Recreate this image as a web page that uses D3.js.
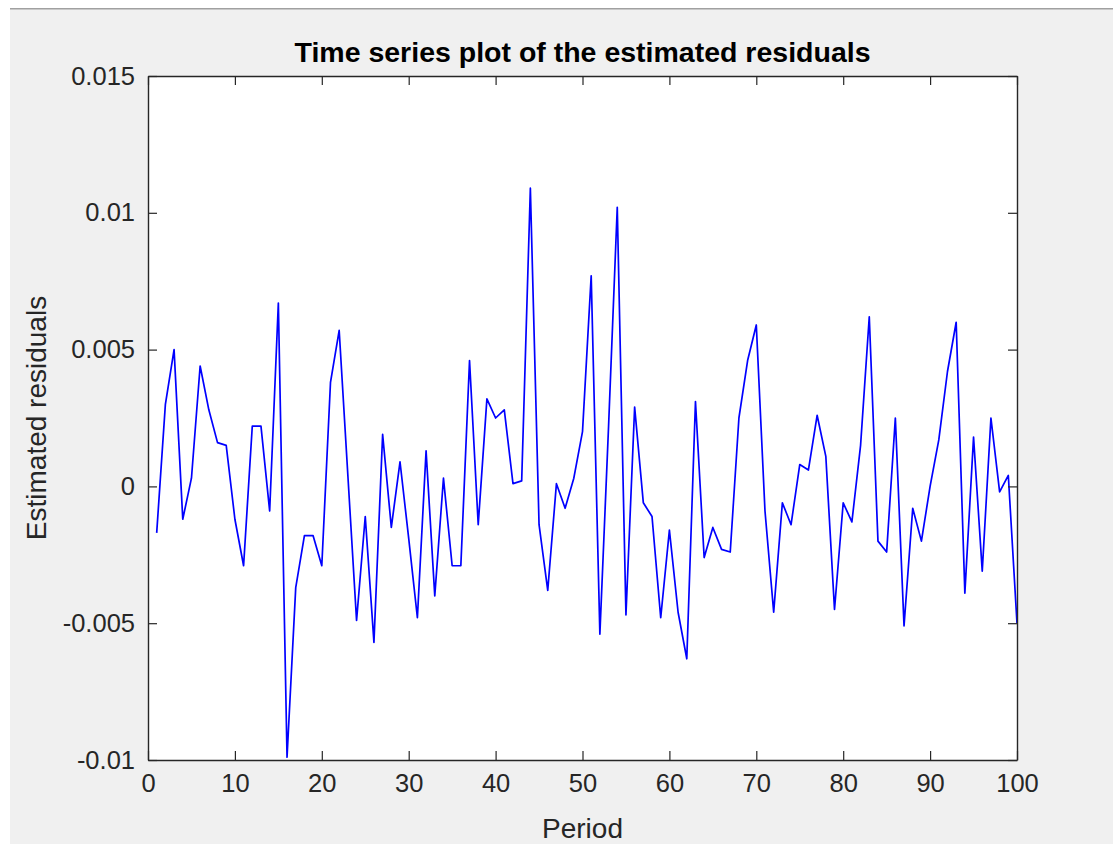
<html>

<head>
    <style>
        body { margin: 0; background: #ffffff; }
        svg { display: block; }
        text { font-family: "Liberation Sans", Arial, Helvetica, sans-serif; fill: #262626; }
    </style>
</head>

<body>
    <div id="my_dataviz"></div>
</body>

<script src="https://d3js.org/d3.v7.min.js"></script>
<script>
    // period 1..100 and the residuals
    var periods = d3.range(1, 101)
    var residuals = [
        -0.0017, 0.0030, 0.0050, -0.0012, 0.0003, 0.0044, 0.0028, 0.0016, 0.0015, -0.0012,
        -0.0029, 0.0022, 0.0022, -0.0009, 0.0067, -0.0099, -0.0037, -0.0018, -0.0018, -0.0029,
        0.0038, 0.0057, 0.0004, -0.0049, -0.0011, -0.0057, 0.0019, -0.0015, 0.0009, -0.0019,
        -0.0048, 0.0013, -0.0040, 0.0003, -0.0029, -0.0029, 0.0046, -0.0014, 0.0032, 0.0025,
        0.0028, 0.0001, 0.0002, 0.0109, -0.0014, -0.0038, 0.0001, -0.0008, 0.0003, 0.0020,
        0.0077, -0.0054, 0.0022, 0.0102, -0.0047, 0.0029, -0.0006, -0.0011, -0.0048, -0.0016,
        -0.0046, -0.0063, 0.0031, -0.0026, -0.0015, -0.0023, -0.0024, 0.0025, 0.0046, 0.0059,
        -0.0009, -0.0046, -0.0006, -0.0014, 0.0008, 0.0006, 0.0026, 0.0011, -0.0045, -0.0006,
        -0.0013, 0.0015, 0.0062, -0.0020, -0.0024, 0.0025, -0.0051, -0.0008, -0.0020, 0.0000,
        0.0017, 0.0042, 0.0060, -0.0039, 0.0018, -0.0031, 0.0025, -0.0002, 0.0004, -0.0050
    ]
    var xTicks = [0, 10, 20, 30, 40, 50, 60, 70, 80, 90, 100]
    var yTicks = [-0.01, -0.005, 0, 0.005, 0.01, 0.015]
    var yTickLabels = ["-0.01", "-0.005", "0", "0.005", "0.01", "0.015"]

    var W = 1119, H = 844
    var plot = { left: 148, right: 1017, top: 76, bottom: 760 }

    var svg = d3.select("#my_dataviz")
        .append("svg")
        .attr("width", W)
        .attr("height", H)

    // figure window background
    svg.append("rect")
        .attr("x", 10).attr("y", 9)
        .attr("width", 1103).attr("height", H - 9)
        .attr("fill", "#f0f0f0")
    svg.append("rect")
        .attr("x", 10).attr("y", 8)
        .attr("width", 1103).attr("height", 1.5)
        .attr("fill", "#a0a0a0")

    var x = d3.scaleLinear().domain([0, 100]).range([plot.left, plot.right])
    var y = d3.scaleLinear().domain([-0.01, 0.015]).range([plot.bottom, plot.top])

    // axes box
    svg.append("rect")
        .attr("x", plot.left).attr("y", plot.top)
        .attr("width", plot.right - plot.left)
        .attr("height", plot.bottom - plot.top)
        .attr("fill", "#ffffff")

    // the series
    var line = d3.line()
        .x(function (d, i) { return x(periods[i]) })
        .y(function (d) { return y(d) })

    svg.append("path")
        .datum(residuals)
        .attr("d", line)
        .attr("fill", "none")
        .attr("stroke", "#0000ff")
        .attr("stroke-width", 1.7)
        .attr("stroke-linejoin", "round")

    // axes, MATLAB style: ticks inside on all four sides
    var tickLen = 9
    svg.append("g")
        .attr("transform", "translate(0," + plot.bottom + ")")
        .call(d3.axisBottom(x).tickValues(xTicks).tickSizeInner(-tickLen).tickSizeOuter(0).tickPadding(14))
    svg.append("g")
        .attr("transform", "translate(0," + plot.top + ")")
        .call(d3.axisTop(x).tickValues(xTicks).tickSizeInner(-tickLen).tickSizeOuter(0).tickFormat(""))
    svg.append("g")
        .attr("transform", "translate(" + plot.left + ",0)")
        .call(d3.axisLeft(y).tickValues(yTicks).tickSizeInner(-tickLen).tickSizeOuter(0).tickPadding(13)
            .tickFormat(function (d, i) { return yTickLabels[i] }))
    svg.append("g")
        .attr("transform", "translate(" + plot.right + ",0)")
        .call(d3.axisRight(y).tickValues(yTicks).tickSizeInner(-tickLen).tickSizeOuter(0).tickFormat(""))

    svg.selectAll(".domain").attr("stroke", "#262626").attr("stroke-width", 1.4)
    svg.selectAll(".tick line").attr("stroke", "#262626").attr("stroke-width", 1.2)
    svg.selectAll(".tick text")
        .style("font-family", "'Liberation Sans', Arial, sans-serif")
        .style("font-size", "25.5px")
        .attr("fill", "#333333")

    // titles
    svg.append("text")
        .attr("x", (plot.left + plot.right) / 2)
        .attr("y", 62)
        .attr("text-anchor", "middle")
        .style("font-size", "28.5px")
        .style("font-weight", "bold")
        .style("fill", "#000000")
        .text("Time series plot of the estimated residuals")

    svg.append("text")
        .attr("x", (plot.left + plot.right) / 2)
        .attr("y", 838)
        .attr("text-anchor", "middle")
        .style("font-size", "28px")
        .text("Period")

    svg.append("text")
        .attr("transform", "translate(46," + (plot.top + plot.bottom) / 2 + ") rotate(-90)")
        .attr("text-anchor", "middle")
        .style("font-size", "28px")
        .text("Estimated residuals")
</script>

</html>
